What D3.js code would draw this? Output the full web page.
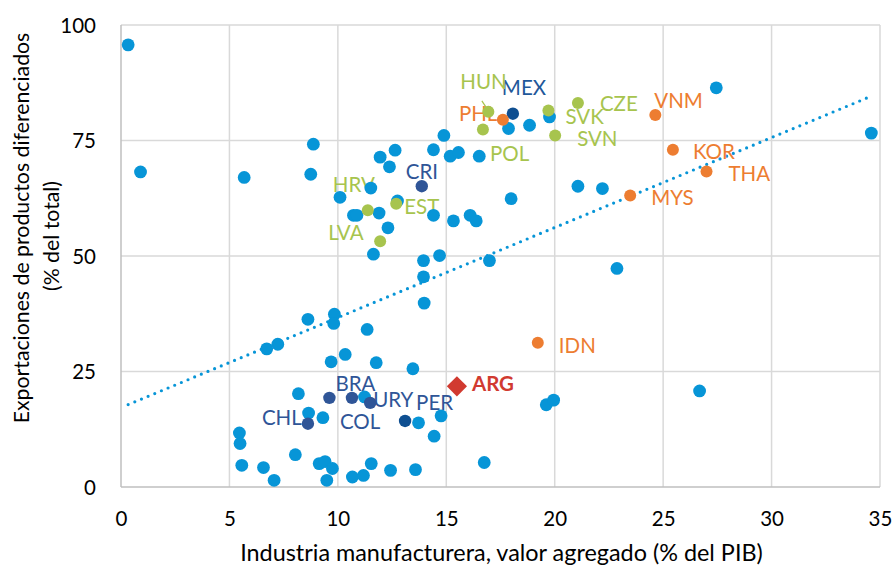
<!DOCTYPE html>
<html><head><meta charset="utf-8">
<script src="https://cdn.jsdelivr.net/npm/d3@7"></script>
<style>html,body{margin:0;padding:0;background:#fff;}svg{display:block;font-family:Lato,"Open Sans",sans-serif;}</style>
</head><body>
<svg id="chart" width="893" height="567"></svg>
<script>
// ---- data ----
const otherCountries = [
 [0.33,95.7],[0.9,68.2],[5.68,67.0],[8.87,74.2],[8.75,67.7],[10.1,62.7],[11.95,71.4],[12.64,72.9],
 [12.38,69.3],[14.41,73.0],[14.89,76.1],[15.18,71.6],[15.56,72.4],[16.52,71.6],[17.87,77.6],[18.84,78.3],
 [19.76,80.1],[11.52,64.7],[12.75,61.9],[10.72,58.8],[10.88,58.8],[11.9,59.3],[14.41,58.8],[15.33,57.6],
 [16.1,58.8],[16.38,57.6],[17.99,62.4],[21.07,65.1],[22.2,64.6],[12.31,56.1],[11.64,50.4],[13.95,49.0],
 [14.69,50.1],[16.99,49.0],[27.45,86.4],[34.6,76.6],[22.87,47.3],[13.95,45.5],[13.98,39.8],[8.62,36.3],
 [9.84,37.4],[9.81,35.4],[11.35,34.1],[6.72,29.9],[7.23,30.9],[10.34,28.7],[9.69,27.1],[11.77,26.9],
 [13.46,25.6],[8.18,20.2],[11.23,19.5],[8.65,16.0],[9.31,15.0],[13.72,13.9],[14.76,15.4],[14.44,11.0],
 [19.61,17.8],[19.95,18.8],[26.68,20.8],[5.46,11.7],[5.49,9.4],[5.57,4.7],[6.57,4.2],[8.04,7.0],
 [7.06,1.45],[9.14,5.06],[9.41,5.5],[9.75,4.0],[9.49,1.45],[10.67,2.16],[11.18,2.5],[11.54,5.06],
 [12.43,3.6],[13.58,3.76],[16.75,5.3]
];
const latamCodes = ["MEX","CRI","BRA","COL","URY","CHL","PER"];
const latamX = [18.07,13.87,9.61,10.65,11.49,8.62,13.1];
const latamY = [80.8,65.1,19.3,19.3,18.2,13.7,14.3];
const europeCodes = ["HUN","POL","SVK","CZE","SVN","HRV","EST","LVA"];
const europeX = [16.94,16.69,19.71,21.07,20.02,11.38,12.69,11.95];
const europeY = [81.2,77.4,81.5,83.1,76.1,59.9,61.3,53.2];
const asiaCodes = ["PHL","VNM","KOR","THA","MYS","IDN"];
const asiaX = [17.61,24.64,25.45,27.0,23.48,19.22];
const asiaY = [79.5,80.5,73.0,68.3,63.1,31.2];
const argentina = {code:"ARG", x:15.49, y:21.8};
const trendSlope = 1.948, trendIntercept = 17.2;
const xTicks = [0,5,10,15,20,25,30,35];
const yTicks = [0,25,50,75,100];
const xTitle = "Industria manufacturera, valor agregado (% del PIB)";
const yTitle1 = "Exportaciones de productos diferenciados";
const yTitle2 = "(% del total)";

// ---- layout ----
const svg = d3.select("#chart");
const W=893,H=567, L=121, R=880, T=25, B=487;
const x = d3.scaleLinear().domain([0,35]).range([L,R]);
const y = d3.scaleLinear().domain([0,100]).range([B,T]);
const C = {blue:"#0795D7", green:"#A7C44E", orange:"#ED7D31", navy:"#2F5597", navyDark:"#0F4F91", red:"#D13A30", grid:"#D9D9D9", axis:"#BFBFBF", text:"#000"};

// label offsets (pixels from the marker)
const labelOff = {
 HUN:[-28,-30],MEX:[-11,-26],PHL:[-44,-6],SVK:[17,6],CZE:[22,1],SVN:[22,3],POL:[7,24],CRI:[-16,-15],
 HRV:[-35,-26],EST:[8,3],LVA:[-52,-9],VNM:[-1,-14],KOR:[20,2],THA:[22,2],MYS:[21,2],IDN:[21,3],
 ARG:[15,-3],BRA:[6,-14],COL:[-12,24],URY:[3,-3],PER:[11,-18],CHL:[-46,-6]
};

// grid
const g = svg.append("g");
g.selectAll("line.vg").data(xTicks.filter(d=>d>0)).join("line")
 .attr("x1",d=>x(d)).attr("x2",d=>x(d)).attr("y1",T).attr("y2",B)
 .attr("stroke",C.grid).attr("stroke-width",1.5);
g.selectAll("line.hg").data(yTicks.filter(d=>d>0)).join("line")
 .attr("x1",L).attr("x2",R).attr("y1",d=>y(d)).attr("y2",d=>y(d))
 .attr("stroke",C.grid).attr("stroke-width",1.5);
// axes lines
g.append("line").attr("x1",L).attr("x2",L).attr("y1",T).attr("y2",B).attr("stroke",C.axis).attr("stroke-width",1.5);
g.append("line").attr("x1",L).attr("x2",R).attr("y1",B).attr("y2",B).attr("stroke",C.axis).attr("stroke-width",1.5);

// tick labels via d3 axes
const xAxis = svg.append("g").attr("transform",`translate(0,${B})`)
 .call(d3.axisBottom(x).tickValues(xTicks).tickSize(0).tickPadding(33).tickFormat(d3.format("d")));
const yAxis = svg.append("g").attr("transform",`translate(${L},0)`)
 .call(d3.axisLeft(y).tickValues(yTicks).tickSize(0).tickPadding(25).tickFormat(d3.format("d")));
[xAxis,yAxis].forEach(a=>{a.select(".domain").remove();
 a.selectAll("text").attr("font-family","Lato").attr("font-size",20.5).attr("fill","#000");});
xAxis.selectAll("text").attr("dy","0.28em");
yAxis.selectAll("text").attr("dy","0.36em");

// titles fitted to measured widths
function fit(t, target){ const w=t.node().getComputedTextLength(); const fs=+t.attr("font-size"); t.attr("font-size",fs*target/w); }
const xt = svg.append("text").attr("x",501.5).attr("y",561).attr("text-anchor","middle")
 .attr("font-size",20).attr("fill","#000").text(xTitle);
fit(xt,523);
const yt1 = svg.append("text").attr("transform","translate(29,228) rotate(-90)").attr("text-anchor","middle")
 .attr("font-size",20).attr("fill","#000").text(yTitle1);
fit(yt1,391);
const yt2 = svg.append("text").attr("transform","translate(59,236) rotate(-90)").attr("text-anchor","middle")
 .attr("font-size",+yt1.attr("font-size")).attr("fill","#000").text(yTitle2);

// trendline
const xs = otherCountries.map(d=>d[0]).concat(latamX,europeX,asiaX,[argentina.x]);
const xmin=d3.min(xs), xmax=d3.max(xs);
svg.append("line").attr("x1",x(xmin)).attr("y1",y(trendIntercept+trendSlope*xmin))
 .attr("x2",x(xmax)).attr("y2",y(trendIntercept+trendSlope*xmax))
 .attr("stroke",C.blue).attr("stroke-width",3.2).attr("stroke-linecap","round").attr("stroke-dasharray","0 7.2");

// groups
const latam = latamCodes.map((c,i)=>({code:c,x:latamX[i],y:latamY[i],col:(c==="MEX"||c==="PER")?C.navyDark:C.navy,lab:c==="MEX"?"#1F589A":C.navy}));
const europe = europeCodes.map((c,i)=>({code:c,x:europeX[i],y:europeY[i],col:C.green,lab:C.green}));
const asia = asiaCodes.map((c,i)=>({code:c,x:asiaX[i],y:asiaY[i],col:C.orange,lab:C.orange}));
const named = latam.concat(europe,asia);

// labels (under markers)
const lab = svg.append("g").attr("font-size",20.5);
named.forEach(d=>{
 const o=labelOff[d.code];
 lab.append("text").attr("x",x(d.x)+o[0]).attr("y",y(d.y)+o[1]).attr("dy","0.36em")
  .attr("fill",d.lab).text(d.code);
});
// HUN leader line
{ const d=europe[0]; lab.append("line").attr("x1",x(d.x)-6.5).attr("y1",y(d.y)-11).attr("x2",x(d.x)-1.5).attr("y2",y(d.y)-3.5)
  .attr("stroke",C.green).attr("stroke-width",1.2); }
{ const o=labelOff.ARG; lab.append("text").attr("x",x(argentina.x)+o[0]).attr("y",y(argentina.y)+o[1]).attr("dy","0.36em")
  .attr("fill",C.red).attr("font-weight","bold").text(argentina.code); }

// markers
svg.append("g").selectAll("circle").data(otherCountries).join("circle")
 .attr("cx",d=>x(d[0])).attr("cy",d=>y(d[1])).attr("r",6.4).attr("fill",C.blue);
svg.append("g").selectAll("circle").data(latam).join("circle")
 .attr("cx",d=>x(d.x)).attr("cy",d=>y(d.y)).attr("r",6.2).attr("fill",d=>d.col);
svg.append("g").selectAll("circle").data(europe).join("circle")
 .attr("cx",d=>x(d.x)).attr("cy",d=>y(d.y)).attr("r",6).attr("fill",d=>d.col);
svg.append("g").selectAll("circle").data(asia).join("circle")
 .attr("cx",d=>x(d.x)).attr("cy",d=>y(d.y)).attr("r",6).attr("fill",d=>d.col);
svg.append("path").attr("d",d3.symbol(d3.symbolDiamond2,260)())
 .attr("transform",`translate(${x(argentina.x)},${y(argentina.y)})`).attr("fill",C.red);
</script>
</body></html>
